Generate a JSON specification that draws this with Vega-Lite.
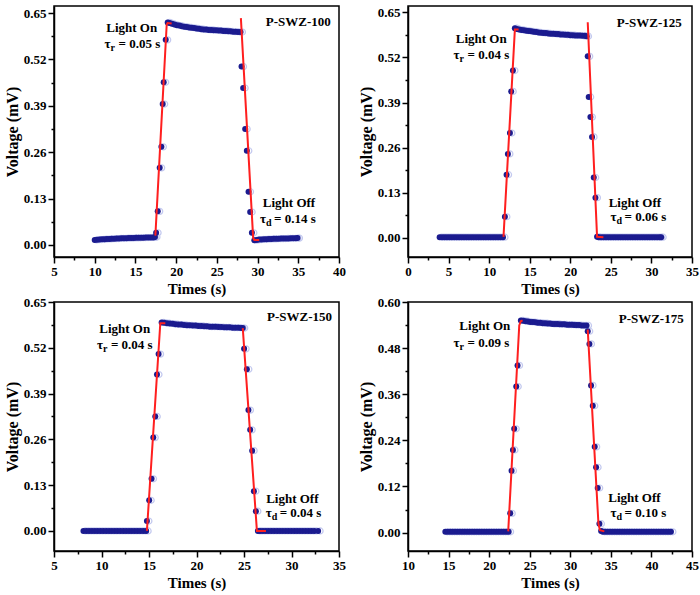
{
  "$schema": "https://vega.github.io/schema/vega-lite/v6.json",
  "background": "white",
  "padding": {"left": 3, "top": 5, "right": 5, "bottom": 3},
  "columns": 2,
  "bounds": "flush",
  "spacing": {"row": 45, "column": 69},
  "datasets": {
    "p1": [
      {"t":10.0,"v":0.014},{"t":10.3,"v":0.0145},{"t":10.6,"v":0.015},{"t":10.9,"v":0.0155},{"t":11.2,"v":0.016},{"t":11.5,"v":0.0165},{"t":11.8,"v":0.0168},{"t":12.1,"v":0.0172},{"t":12.4,"v":0.0175},{"t":12.7,"v":0.0178},{"t":13.0,"v":0.018},{"t":13.3,"v":0.0183},{"t":13.6,"v":0.0186},{"t":13.9,"v":0.0188},{"t":14.2,"v":0.019},{"t":14.5,"v":0.0192},{"t":14.8,"v":0.0195},{"t":15.1,"v":0.0197},{"t":15.4,"v":0.0199},{"t":15.7,"v":0.0201},{"t":16.0,"v":0.0203},{"t":16.3,"v":0.0205},{"t":16.6,"v":0.0207},{"t":16.9,"v":0.0209},{"t":17.2,"v":0.021},{"t":17.4,"v":0.022},
      {"t":17.54,"v":0.034},{"t":17.74,"v":0.094},{"t":17.98,"v":0.216},{"t":18.19,"v":0.275},{"t":18.35,"v":0.395},{"t":18.47,"v":0.456},{"t":18.72,"v":0.575},
      {"t":18.96,"v":0.624},{"t":19.2,"v":0.622},{"t":19.5,"v":0.62},{"t":19.8,"v":0.618},{"t":20.1,"v":0.616},{"t":20.4,"v":0.615},{"t":20.7,"v":0.613},{"t":21.0,"v":0.612},{"t":21.3,"v":0.611},{"t":21.6,"v":0.61},{"t":21.9,"v":0.609},{"t":22.2,"v":0.608},{"t":22.5,"v":0.607},{"t":22.8,"v":0.606},{"t":23.1,"v":0.605},{"t":23.4,"v":0.604},{"t":23.7,"v":0.604},{"t":24.0,"v":0.603},{"t":24.3,"v":0.603},{"t":24.6,"v":0.602},{"t":24.9,"v":0.602},{"t":25.2,"v":0.601},{"t":25.5,"v":0.601},{"t":25.8,"v":0.6},{"t":26.1,"v":0.6},{"t":26.4,"v":0.599},{"t":26.7,"v":0.599},{"t":27.0,"v":0.598},{"t":27.3,"v":0.598},{"t":27.6,"v":0.597},{"t":27.9,"v":0.597},
      {"t":28.03,"v":0.5},{"t":28.23,"v":0.44},{"t":28.48,"v":0.325},{"t":28.68,"v":0.264},{"t":28.89,"v":0.149},{"t":29.09,"v":0.092},{"t":29.3,"v":0.034},
      {"t":29.6,"v":0.013},{"t":29.9,"v":0.014},{"t":30.2,"v":0.015},{"t":30.5,"v":0.0153},{"t":30.8,"v":0.0157},{"t":31.1,"v":0.016},{"t":31.4,"v":0.0163},{"t":31.7,"v":0.0166},{"t":32.0,"v":0.0169},{"t":32.3,"v":0.0172},{"t":32.6,"v":0.0174},{"t":32.9,"v":0.0176},{"t":33.2,"v":0.0178},{"t":33.5,"v":0.018},{"t":33.8,"v":0.0182},{"t":34.1,"v":0.0184},{"t":34.4,"v":0.0186},{"t":34.7,"v":0.0188},{"t":34.9,"v":0.019}
    ],
    "p2": [
      {"t":3.9,"v":0.002},{"t":4.2,"v":0.002},{"t":4.5,"v":0.002},{"t":4.8,"v":0.002},{"t":5.1,"v":0.002},{"t":5.4,"v":0.002},{"t":5.7,"v":0.002},{"t":6.0,"v":0.002},{"t":6.3,"v":0.002},{"t":6.6,"v":0.002},{"t":6.9,"v":0.002},{"t":7.2,"v":0.002},{"t":7.5,"v":0.002},{"t":7.8,"v":0.002},{"t":8.1,"v":0.002},{"t":8.4,"v":0.002},{"t":8.7,"v":0.002},{"t":9.0,"v":0.002},{"t":9.3,"v":0.002},{"t":9.6,"v":0.002},{"t":9.9,"v":0.002},{"t":10.2,"v":0.002},{"t":10.5,"v":0.002},{"t":10.8,"v":0.002},{"t":11.1,"v":0.002},{"t":11.4,"v":0.002},{"t":11.7,"v":0.002},
      {"t":11.94,"v":0.061},{"t":12.15,"v":0.182},{"t":12.31,"v":0.242},{"t":12.56,"v":0.302},{"t":12.72,"v":0.422},{"t":12.93,"v":0.482},
      {"t":13.17,"v":0.604},{"t":13.4,"v":0.602},{"t":13.7,"v":0.6},{"t":14.0,"v":0.599},{"t":14.3,"v":0.598},{"t":14.6,"v":0.597},{"t":14.9,"v":0.596},{"t":15.2,"v":0.595},{"t":15.5,"v":0.594},{"t":15.8,"v":0.593},{"t":16.1,"v":0.592},{"t":16.4,"v":0.591},{"t":16.7,"v":0.59},{"t":17.0,"v":0.59},{"t":17.3,"v":0.589},{"t":17.6,"v":0.588},{"t":17.9,"v":0.588},{"t":18.2,"v":0.587},{"t":18.5,"v":0.587},{"t":18.8,"v":0.586},{"t":19.1,"v":0.586},{"t":19.4,"v":0.585},{"t":19.7,"v":0.585},{"t":20.0,"v":0.584},{"t":20.3,"v":0.584},{"t":20.6,"v":0.583},{"t":20.9,"v":0.583},{"t":21.2,"v":0.583},{"t":21.5,"v":0.582},{"t":21.8,"v":0.582},{"t":22.0,"v":0.581},
      {"t":22.15,"v":0.523},{"t":22.27,"v":0.406},{"t":22.48,"v":0.348},{"t":22.68,"v":0.291},{"t":22.89,"v":0.174},{"t":23.1,"v":0.116},{"t":23.3,"v":0.003},
      {"t":23.5,"v":0.002},{"t":23.8,"v":0.002},{"t":24.1,"v":0.002},{"t":24.4,"v":0.002},{"t":24.7,"v":0.002},{"t":25.0,"v":0.002},{"t":25.3,"v":0.002},{"t":25.6,"v":0.002},{"t":25.9,"v":0.002},{"t":26.2,"v":0.002},{"t":26.5,"v":0.002},{"t":26.8,"v":0.002},{"t":27.1,"v":0.002},{"t":27.4,"v":0.002},{"t":27.7,"v":0.002},{"t":28.0,"v":0.002},{"t":28.3,"v":0.002},{"t":28.6,"v":0.002},{"t":28.9,"v":0.002},{"t":29.2,"v":0.002},{"t":29.5,"v":0.002},{"t":29.8,"v":0.002},{"t":30.1,"v":0.002},{"t":30.4,"v":0.002},{"t":30.7,"v":0.002},{"t":31.0,"v":0.002},{"t":31.2,"v":0.002}
    ],
    "p3": [
      {"t":8.1,"v":0},{"t":8.4,"v":0},{"t":8.7,"v":0},{"t":9.0,"v":0},{"t":9.3,"v":0},{"t":9.6,"v":0},{"t":9.9,"v":0},{"t":10.2,"v":0},{"t":10.5,"v":0},{"t":10.8,"v":0},{"t":11.1,"v":0},{"t":11.4,"v":0},{"t":11.7,"v":0},{"t":12.0,"v":0},{"t":12.3,"v":0},{"t":12.6,"v":0},{"t":12.9,"v":0},{"t":13.2,"v":0},{"t":13.5,"v":0},{"t":13.8,"v":0},{"t":14.1,"v":0},{"t":14.4,"v":0},{"t":14.7,"v":0},
      {"t":14.78,"v":0.028},{"t":15.02,"v":0.087},{"t":15.27,"v":0.148},{"t":15.45,"v":0.265},{"t":15.66,"v":0.325},{"t":15.84,"v":0.444},{"t":16.01,"v":0.502},
      {"t":16.33,"v":0.592},{"t":16.6,"v":0.591},{"t":16.9,"v":0.59},{"t":17.2,"v":0.589},{"t":17.5,"v":0.588},{"t":17.8,"v":0.587},{"t":18.1,"v":0.586},{"t":18.4,"v":0.586},{"t":18.7,"v":0.585},{"t":19.0,"v":0.584},{"t":19.3,"v":0.584},{"t":19.6,"v":0.583},{"t":19.9,"v":0.583},{"t":20.2,"v":0.582},{"t":20.5,"v":0.582},{"t":20.8,"v":0.581},{"t":21.1,"v":0.581},{"t":21.4,"v":0.58},{"t":21.7,"v":0.58},{"t":22.0,"v":0.58},{"t":22.3,"v":0.579},{"t":22.6,"v":0.579},{"t":22.9,"v":0.578},{"t":23.2,"v":0.578},{"t":23.5,"v":0.578},{"t":23.8,"v":0.577},{"t":24.1,"v":0.577},{"t":24.4,"v":0.577},{"t":24.7,"v":0.576},{"t":24.87,"v":0.576},
      {"t":25.01,"v":0.517},{"t":25.3,"v":0.459},{"t":25.47,"v":0.343},{"t":25.65,"v":0.287},{"t":25.86,"v":0.228},{"t":26.04,"v":0.113},{"t":26.25,"v":0.056},{"t":26.46,"v":0.0},
      {"t":26.7,"v":0},{"t":27.0,"v":0},{"t":27.3,"v":0},{"t":27.6,"v":0},{"t":27.9,"v":0},{"t":28.2,"v":0},{"t":28.5,"v":0},{"t":28.8,"v":0},{"t":29.1,"v":0},{"t":29.4,"v":0},{"t":29.7,"v":0},{"t":30.0,"v":0},{"t":30.3,"v":0},{"t":30.6,"v":0},{"t":30.9,"v":0},{"t":31.2,"v":0},{"t":31.5,"v":0},{"t":31.8,"v":0},{"t":32.1,"v":0},{"t":32.4,"v":0},{"t":32.8,"v":0}
    ],
    "p4": [
      {"t":14.6,"v":0.002},{"t":14.9,"v":0.002},{"t":15.2,"v":0.002},{"t":15.5,"v":0.002},{"t":15.8,"v":0.002},{"t":16.1,"v":0.002},{"t":16.4,"v":0.002},{"t":16.7,"v":0.002},{"t":17.0,"v":0.002},{"t":17.3,"v":0.002},{"t":17.6,"v":0.002},{"t":17.9,"v":0.002},{"t":18.2,"v":0.002},{"t":18.5,"v":0.002},{"t":18.8,"v":0.002},{"t":19.1,"v":0.002},{"t":19.4,"v":0.002},{"t":19.7,"v":0.002},{"t":20.0,"v":0.002},{"t":20.3,"v":0.002},{"t":20.6,"v":0.002},{"t":20.9,"v":0.002},{"t":21.2,"v":0.002},{"t":21.5,"v":0.002},{"t":21.8,"v":0.002},{"t":22.1,"v":0.002},{"t":22.4,"v":0.002},
      {"t":22.6,"v":0.05},{"t":22.76,"v":0.161},{"t":22.93,"v":0.215},{"t":23.09,"v":0.27},{"t":23.34,"v":0.38},{"t":23.5,"v":0.435},
      {"t":23.91,"v":0.552},{"t":24.2,"v":0.551},{"t":24.5,"v":0.55},{"t":24.8,"v":0.549},{"t":25.1,"v":0.548},{"t":25.4,"v":0.548},{"t":25.7,"v":0.547},{"t":26.0,"v":0.546},{"t":26.3,"v":0.546},{"t":26.6,"v":0.545},{"t":26.9,"v":0.545},{"t":27.2,"v":0.544},{"t":27.5,"v":0.544},{"t":27.8,"v":0.543},{"t":28.1,"v":0.543},{"t":28.4,"v":0.543},{"t":28.7,"v":0.542},{"t":29.0,"v":0.542},{"t":29.3,"v":0.542},{"t":29.6,"v":0.541},{"t":29.9,"v":0.541},{"t":30.2,"v":0.541},{"t":30.5,"v":0.54},{"t":30.8,"v":0.54},{"t":31.1,"v":0.54},{"t":31.4,"v":0.539},{"t":31.7,"v":0.539},{"t":32.0,"v":0.539},
      {"t":32.15,"v":0.524},{"t":32.36,"v":0.491},{"t":32.56,"v":0.383},{"t":32.77,"v":0.33},{"t":33.01,"v":0.223},{"t":33.18,"v":0.17},{"t":33.38,"v":0.116},{"t":33.59,"v":0.023},{"t":33.8,"v":0.004},
      {"t":34.0,"v":0.002},{"t":34.3,"v":0.002},{"t":34.6,"v":0.002},{"t":34.9,"v":0.002},{"t":35.2,"v":0.002},{"t":35.5,"v":0.002},{"t":35.8,"v":0.002},{"t":36.1,"v":0.002},{"t":36.4,"v":0.002},{"t":36.7,"v":0.002},{"t":37.0,"v":0.002},{"t":37.3,"v":0.002},{"t":37.6,"v":0.002},{"t":37.9,"v":0.002},{"t":38.2,"v":0.002},{"t":38.5,"v":0.002},{"t":38.8,"v":0.002},{"t":39.1,"v":0.002},{"t":39.4,"v":0.002},{"t":39.7,"v":0.002},{"t":40.0,"v":0.002},{"t":40.3,"v":0.002},{"t":40.6,"v":0.002},{"t":40.9,"v":0.002},{"t":41.2,"v":0.002},{"t":41.5,"v":0.002},{"t":41.8,"v":0.002},{"t":42.1,"v":0.002},{"t":42.4,"v":0.002}
    ],
    "f1": [
      {"s":"r","t":17.45,"v":0.026},{"s":"r","t":18.84,"v":0.618},{"s":"r","t":18.95,"v":0.622},{"s":"r","t":19.45,"v":0.621},
      {"s":"d","t":27.95,"v":0.636},{"s":"d","t":29.46,"v":0.019},{"s":"d","t":29.6,"v":0.014},{"s":"d","t":30.2,"v":0.014}
    ],
    "f2": [
      {"s":"r","t":11.77,"v":0.003},{"s":"r","t":13.17,"v":0.6},{"s":"r","t":13.63,"v":0.6},
      {"s":"d","t":22.15,"v":0.621},{"s":"d","t":23.3,"v":0.003},{"s":"d","t":24.08,"v":0.002}
    ],
    "f3": [
      {"s":"r","t":14.78,"v":0},{"s":"r","t":16.19,"v":0.59},{"s":"r","t":16.72,"v":0.59},
      {"s":"d","t":24.87,"v":0.576},{"s":"d","t":26.36,"v":0},{"s":"d","t":27.31,"v":0}
    ],
    "f4": [
      {"s":"r","t":22.35,"v":0.003},{"s":"r","t":23.71,"v":0.539},{"s":"r","t":23.9,"v":0.55},{"s":"r","t":24.12,"v":0.552},
      {"s":"d","t":32.15,"v":0.528},{"s":"d","t":33.47,"v":0.023},{"s":"d","t":33.65,"v":0.006},{"s":"d","t":34.2,"v":0.003}
    ],
    "a1": [
      {"k":"c","t":35.0,"v":0.626,"txt":"P-SWZ-100"},
      {"k":"c","t":14.54,"v":0.609,"txt":"Light On"},
      {"k":"e","t":12.92,"v":0.564,"sub":"r","txt":"= 0.05 s"},
      {"k":"c","t":33.86,"v":0.117,"txt":"Light Off"},
      {"k":"e","t":32.02,"v":0.072,"sub":"d","txt":"= 0.14 s"}
    ],
    "a2": [
      {"k":"c","t":29.73,"v":0.619,"txt":"P-SWZ-125"},
      {"k":"c","t":9.02,"v":0.573,"txt":"Light On"},
      {"k":"e","t":7.33,"v":0.526,"sub":"r","txt":"= 0.04 s"},
      {"k":"c","t":27.96,"v":0.101,"txt":"Light Off"},
      {"k":"e","t":26.68,"v":0.061,"sub":"d","txt":"= 0.06 s"}
    ],
    "a3": [
      {"k":"c","t":30.84,"v":0.608,"txt":"P-SWZ-150"},
      {"k":"c","t":12.44,"v":0.573,"txt":"Light On"},
      {"k":"e","t":10.99,"v":0.529,"sub":"r","txt":"= 0.04 s"},
      {"k":"c","t":30.09,"v":0.091,"txt":"Light Off"},
      {"k":"e","t":28.75,"v":0.051,"sub":"d","txt":"= 0.04 s"}
    ],
    "a4": [
      {"k":"c","t":39.97,"v":0.557,"txt":"P-SWZ-175"},
      {"k":"c","t":19.47,"v":0.537,"txt":"Light On"},
      {"k":"e","t":17.33,"v":0.493,"sub":"r","txt":"= 0.09 s"},
      {"k":"c","t":37.91,"v":0.091,"txt":"Light Off"},
      {"k":"e","t":36.68,"v":0.052,"sub":"d","txt":"= 0.10 s"}
    ]
  },
  "concat": [
    {
      "width": 285, "height": 251,
      "encoding": {
        "x": {"field": "t", "type": "quantitative", "scale": {"domain": [5, 40], "nice": false, "zero": false},
          "axis": {"title": "Times (s)", "values": [5,7.5,10,12.5,15,17.5,20,22.5,25,27.5,30,32.5,35,37.5,40],
            "labelExpr": "datum.value % 5 === 0 ? datum.label : ''",
            "tickSize": {"condition": {"test": "datum.value % 5 !== 0", "value": 3}, "value": 6}}},
        "y": {"field": "v", "type": "quantitative", "scale": {"domain": [-0.034, 0.67], "nice": false, "zero": false},
          "axis": {"title": "Voltage (mV)", "values": [0,0.065,0.13,0.195,0.26,0.325,0.39,0.455,0.52,0.585,0.65],
            "labelExpr": "round(datum.value*1000) % 130 === 0 ? format(datum.value, '.2f') : ''",
            "tickSize": {"condition": {"test": "round(datum.value*1000) % 130 !== 0", "value": 3}, "value": 6}}}
      },
      "layer": [
        {"data": {"name": "p1"}, "mark": {"type": "point", "filled": false, "stroke": "#c3c9ef", "strokeWidth": 1.2, "size": 36, "xOffset": 2, "opacity": 1}},
        {"data": {"name": "p1"}, "mark": {"type": "circle", "color": "#1b1b8f", "size": 36, "opacity": 1}},
        {"data": {"name": "f1"}, "mark": {"type": "line", "color": "#ff1f1f", "strokeWidth": 2}, "encoding": {"detail": {"field": "s"}}},
        {"data": {"name": "a1"}, "transform": [{"filter": "datum.k === 'c'"}], "mark": {"type": "text", "align": "center", "baseline": "middle"}, "encoding": {"text": {"field": "txt"}}},
        {"data": {"name": "a1"}, "transform": [{"filter": "datum.k === 'e'"}], "mark": {"type": "text", "align": "right", "baseline": "middle", "dx": -8, "text": "τ"}},
        {"data": {"name": "a1"}, "transform": [{"filter": "datum.k === 'e'"}], "mark": {"type": "text", "align": "left", "baseline": "middle", "dx": -8, "dy": 4, "fontSize": 10}, "encoding": {"text": {"field": "sub"}}},
        {"data": {"name": "a1"}, "transform": [{"filter": "datum.k === 'e'"}], "mark": {"type": "text", "align": "left", "baseline": "middle"}, "encoding": {"text": {"field": "txt"}}}
      ]
    },
    {
      "width": 284, "height": 251,
      "encoding": {
        "x": {"field": "t", "type": "quantitative", "scale": {"domain": [0, 35], "nice": false, "zero": false},
          "axis": {"title": "Times (s)", "values": [0,2.5,5,7.5,10,12.5,15,17.5,20,22.5,25,27.5,30,32.5,35],
            "labelExpr": "datum.value % 5 === 0 ? datum.label : ''",
            "tickSize": {"condition": {"test": "datum.value % 5 !== 0", "value": 3}, "value": 6}}},
        "y": {"field": "v", "type": "quantitative", "scale": {"domain": [-0.055, 0.668], "nice": false, "zero": false},
          "axis": {"title": "Voltage (mV)", "values": [0,0.065,0.13,0.195,0.26,0.325,0.39,0.455,0.52,0.585,0.65],
            "labelExpr": "round(datum.value*1000) % 130 === 0 ? format(datum.value, '.2f') : ''",
            "tickSize": {"condition": {"test": "round(datum.value*1000) % 130 !== 0", "value": 3}, "value": 6}}}
      },
      "layer": [
        {"data": {"name": "p2"}, "mark": {"type": "point", "filled": false, "stroke": "#c3c9ef", "strokeWidth": 1.2, "size": 36, "xOffset": 2, "opacity": 1}},
        {"data": {"name": "p2"}, "mark": {"type": "circle", "color": "#1b1b8f", "size": 36, "opacity": 1}},
        {"data": {"name": "f2"}, "mark": {"type": "line", "color": "#ff1f1f", "strokeWidth": 2}, "encoding": {"detail": {"field": "s"}}},
        {"data": {"name": "a2"}, "transform": [{"filter": "datum.k === 'c'"}], "mark": {"type": "text", "align": "center", "baseline": "middle"}, "encoding": {"text": {"field": "txt"}}},
        {"data": {"name": "a2"}, "transform": [{"filter": "datum.k === 'e'"}], "mark": {"type": "text", "align": "right", "baseline": "middle", "dx": -8, "text": "τ"}},
        {"data": {"name": "a2"}, "transform": [{"filter": "datum.k === 'e'"}], "mark": {"type": "text", "align": "left", "baseline": "middle", "dx": -8, "dy": 4, "fontSize": 10}, "encoding": {"text": {"field": "sub"}}},
        {"data": {"name": "a2"}, "transform": [{"filter": "datum.k === 'e'"}], "mark": {"type": "text", "align": "left", "baseline": "middle"}, "encoding": {"text": {"field": "txt"}}}
      ]
    },
    {
      "width": 285, "height": 249,
      "encoding": {
        "x": {"field": "t", "type": "quantitative", "scale": {"domain": [5, 35], "nice": false, "zero": false},
          "axis": {"title": "Times (s)", "values": [5,7.5,10,12.5,15,17.5,20,22.5,25,27.5,30,32.5,35],
            "labelExpr": "datum.value % 5 === 0 ? datum.label : ''",
            "tickSize": {"condition": {"test": "datum.value % 5 !== 0", "value": 3}, "value": 6}}},
        "y": {"field": "v", "type": "quantitative", "scale": {"domain": [-0.057, 0.65], "nice": false, "zero": false},
          "axis": {"title": "Voltage (mV)", "values": [0,0.065,0.13,0.195,0.26,0.325,0.39,0.455,0.52,0.585,0.65],
            "labelExpr": "round(datum.value*1000) % 130 === 0 ? format(datum.value, '.2f') : ''",
            "tickSize": {"condition": {"test": "round(datum.value*1000) % 130 !== 0", "value": 3}, "value": 6}}}
      },
      "layer": [
        {"data": {"name": "p3"}, "mark": {"type": "point", "filled": false, "stroke": "#c3c9ef", "strokeWidth": 1.2, "size": 36, "xOffset": 2, "opacity": 1}},
        {"data": {"name": "p3"}, "mark": {"type": "circle", "color": "#1b1b8f", "size": 36, "opacity": 1}},
        {"data": {"name": "f3"}, "mark": {"type": "line", "color": "#ff1f1f", "strokeWidth": 2}, "encoding": {"detail": {"field": "s"}}},
        {"data": {"name": "a3"}, "transform": [{"filter": "datum.k === 'c'"}], "mark": {"type": "text", "align": "center", "baseline": "middle"}, "encoding": {"text": {"field": "txt"}}},
        {"data": {"name": "a3"}, "transform": [{"filter": "datum.k === 'e'"}], "mark": {"type": "text", "align": "right", "baseline": "middle", "dx": -8, "text": "τ"}},
        {"data": {"name": "a3"}, "transform": [{"filter": "datum.k === 'e'"}], "mark": {"type": "text", "align": "left", "baseline": "middle", "dx": -8, "dy": 4, "fontSize": 10}, "encoding": {"text": {"field": "sub"}}},
        {"data": {"name": "a3"}, "transform": [{"filter": "datum.k === 'e'"}], "mark": {"type": "text", "align": "left", "baseline": "middle"}, "encoding": {"text": {"field": "txt"}}}
      ]
    },
    {
      "width": 284, "height": 249,
      "encoding": {
        "x": {"field": "t", "type": "quantitative", "scale": {"domain": [10, 45], "nice": false, "zero": false},
          "axis": {"title": "Times (s)", "values": [10,12.5,15,17.5,20,22.5,25,27.5,30,32.5,35,37.5,40,42.5,45],
            "labelExpr": "datum.value % 5 === 0 ? datum.label : ''",
            "tickSize": {"condition": {"test": "datum.value % 5 !== 0", "value": 3}, "value": 6}}},
        "y": {"field": "v", "type": "quantitative", "scale": {"domain": [-0.048, 0.6], "nice": false, "zero": false},
          "axis": {"title": "Voltage (mV)", "values": [0,0.06,0.12,0.18,0.24,0.3,0.36,0.42,0.48,0.54,0.6],
            "labelExpr": "round(datum.value*1000) % 120 === 0 ? format(datum.value, '.2f') : ''",
            "tickSize": {"condition": {"test": "round(datum.value*1000) % 120 !== 0", "value": 3}, "value": 6}}}
      },
      "layer": [
        {"data": {"name": "p4"}, "mark": {"type": "point", "filled": false, "stroke": "#c3c9ef", "strokeWidth": 1.2, "size": 36, "xOffset": 2, "opacity": 1}},
        {"data": {"name": "p4"}, "mark": {"type": "circle", "color": "#1b1b8f", "size": 36, "opacity": 1}},
        {"data": {"name": "f4"}, "mark": {"type": "line", "color": "#ff1f1f", "strokeWidth": 2}, "encoding": {"detail": {"field": "s"}}},
        {"data": {"name": "a4"}, "transform": [{"filter": "datum.k === 'c'"}], "mark": {"type": "text", "align": "center", "baseline": "middle"}, "encoding": {"text": {"field": "txt"}}},
        {"data": {"name": "a4"}, "transform": [{"filter": "datum.k === 'e'"}], "mark": {"type": "text", "align": "right", "baseline": "middle", "dx": -8, "text": "τ"}},
        {"data": {"name": "a4"}, "transform": [{"filter": "datum.k === 'e'"}], "mark": {"type": "text", "align": "left", "baseline": "middle", "dx": -8, "dy": 4, "fontSize": 10}, "encoding": {"text": {"field": "sub"}}},
        {"data": {"name": "a4"}, "transform": [{"filter": "datum.k === 'e'"}], "mark": {"type": "text", "align": "left", "baseline": "middle"}, "encoding": {"text": {"field": "txt"}}}
      ]
    }
  ],
  "config": {
    "view": {"stroke": "black", "strokeWidth": 1.5},
    "axis": {
      "grid": false, "domainColor": "black", "domainWidth": 1.5, "tickColor": "black", "tickWidth": 1.5,
      "labelFont": "Liberation Serif", "labelFontWeight": "bold", "labelFontSize": 13, "labelColor": "black",
      "labelOverlap": false, "labelFlush": false, "labelPadding": 2,
      "titleFont": "Liberation Serif", "titleFontWeight": "bold", "titleColor": "black"
    },
    "axisX": {"titleFontSize": 15, "titlePadding": 3},
    "axisY": {"titleFontSize": 16, "titlePadding": 3},
    "text": {"font": "Liberation Serif", "fontWeight": "bold", "fontSize": 13, "color": "black"}
  }
}
